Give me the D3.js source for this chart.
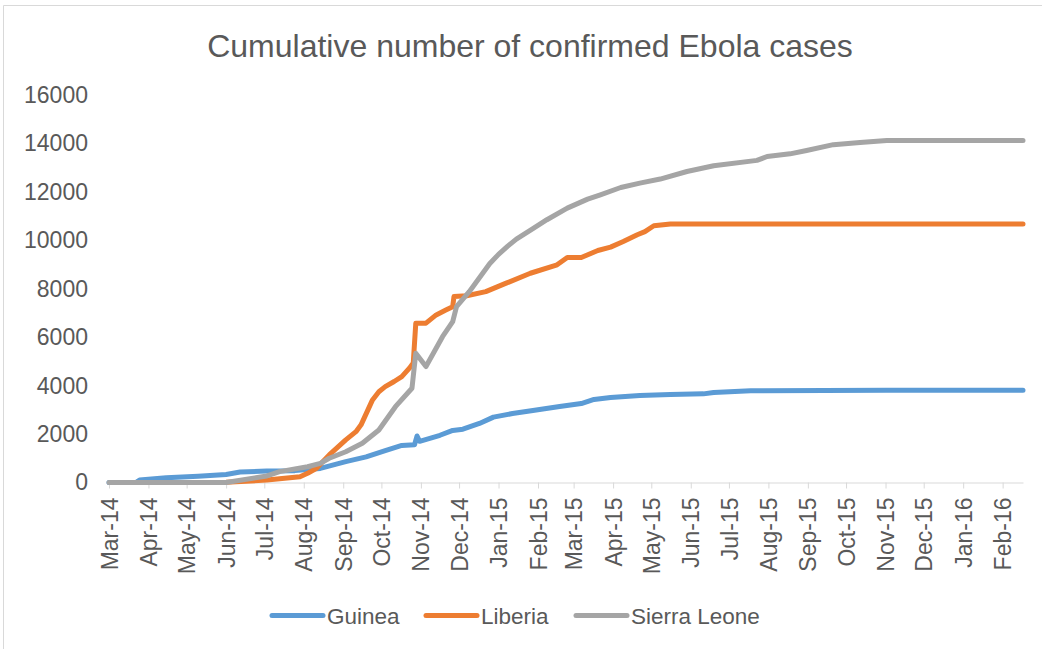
<!DOCTYPE html>
<html>
<head>
<meta charset="utf-8">
<script src="https://cdn.jsdelivr.net/npm/d3@7/dist/d3.min.js"></script>
<style>
  html, body { margin: 0; padding: 0; background: #fff; }
  svg { display: block; font-family: "Liberation Sans", Arial, sans-serif; }
</style>
</head>
<body>
<svg id="chart" width="1042" height="649"></svg>
<script>
// Cumulative confirmed Ebola cases by country, Mar 2014 – Feb 2016
const guineaDates = ["2014-03-01","2014-03-22","2014-03-25","2014-04-15","2014-05-10","2014-06-01","2014-06-12","2014-07-03","2014-07-25","2014-08-14","2014-09-03","2014-09-19","2014-10-04","2014-10-17","2014-10-27","2014-10-29","2014-10-31","2014-11-16","2014-11-26","2014-12-04","2014-12-17","2014-12-28","2015-01-12","2015-01-28","2015-02-18","2015-03-07","2015-03-17","2015-03-30","2015-04-22","2015-05-16","2015-06-11","2015-06-19","2015-07-18","2015-11-02","2015-11-15","2016-02-17"];
const guineaCases = [0,0,100,200,260,330,430,470,490,580,860,1060,1320,1530,1560,1920,1700,1950,2150,2200,2440,2700,2850,2970,3140,3260,3430,3510,3590,3630,3660,3720,3790,3810,3804,3804];

const liberiaDates = ["2014-03-25","2014-06-01","2014-07-03","2014-07-29","2014-08-04","2014-08-11","2014-08-21","2014-09-03","2014-09-11","2014-09-15","2014-09-24","2014-09-29","2014-10-04","2014-10-11","2014-10-17","2014-10-23","2014-10-26","2014-10-28","2014-11-05","2014-11-13","2014-11-21","2014-11-26","2014-11-27","2014-12-07","2014-12-22","2015-01-07","2015-01-26","2015-02-16","2015-02-24","2015-03-07","2015-03-20","2015-03-30","2015-04-09","2015-04-20","2015-04-26","2015-05-03","2015-05-16","2016-02-17"];
const liberiaCases = [0,10,100,240,380,590,1140,1760,2100,2380,3410,3750,3960,4170,4370,4720,4930,6580,6580,6920,7130,7260,7680,7710,7880,8230,8640,8990,9290,9290,9580,9720,9950,10230,10360,10600,10675,10675];

const sierraLeoneDates = ["2014-03-01","2014-06-01","2014-07-03","2014-07-13","2014-08-04","2014-08-14","2014-08-21","2014-09-03","2014-09-16","2014-09-29","2014-10-12","2014-10-25","2014-10-28","2014-11-05","2014-11-18","2014-11-26","2014-11-29","2014-12-09","2014-12-17","2014-12-25","2015-01-01","2015-01-08","2015-01-15","2015-01-28","2015-02-08","2015-02-24","2015-03-12","2015-03-22","2015-04-07","2015-04-22","2015-05-08","2015-05-29","2015-06-19","2015-07-23","2015-07-31","2015-08-18","2015-08-31","2015-09-21","2015-10-12","2015-11-02","2016-02-17"];
const sierraLeoneCases = [0,0,270,450,650,790,1000,1270,1620,2170,3130,3890,5340,4790,6020,6640,7260,7880,8450,9030,9420,9750,10050,10480,10850,11330,11700,11880,12180,12360,12530,12840,13080,13300,13460,13570,13710,13950,14040,14122,14122];

const seriesNames = ["Guinea", "Liberia", "Sierra Leone"];
const seriesColors = ["#5B9BD5", "#ED7D31", "#A5A5A5"];
const yTicks = [0, 2000, 4000, 6000, 8000, 10000, 12000, 14000, 16000];
const chartTitle = "Cumulative number of confirmed Ebola cases";

const parse = d3.timeParse("%Y-%m-%d");
const zip = (dates, vals) => dates.map((d, i) => ({ date: parse(d), value: vals[i] }));
const series = [
  zip(guineaDates, guineaCases),
  zip(liberiaDates, liberiaCases),
  zip(sierraLeoneDates, sierraLeoneCases)
];

const svg = d3.select("#chart");
const textColor = "#595959";
const axisColor = "#D9D9D9";

// chart frame
svg.append("path")
  .attr("d", "M3.5,649V5.5H1042")
  .attr("fill", "none")
  .attr("stroke", axisColor)
  .attr("stroke-width", 1);

const x = d3.scaleTime()
  .domain([parse("2014-03-01"), parse("2016-02-17")])
  .range([109, 1023]);
const y = d3.scaleLinear()
  .domain([0, 16000])
  .range([482.5, 95]);

// title
svg.append("text")
  .attr("x", 530)
  .attr("y", 57)
  .attr("text-anchor", "middle")
  .attr("font-size", 32)
  .attr("fill", textColor)
  .text(chartTitle);

// y axis labels only
const yAxis = svg.append("g")
  .attr("transform", "translate(109,0)")
  .call(d3.axisLeft(y).tickValues(yTicks).tickSize(0).tickPadding(21).tickFormat(d3.format("d")));
yAxis.select(".domain").remove();
yAxis.selectAll("text").attr("font-size", 23).attr("fill", textColor).attr("font-family", null);

// x axis with monthly ticks
const xAxis = svg.append("g")
  .attr("transform", "translate(0,482.5)")
  .call(d3.axisBottom(x)
    .ticks(d3.timeMonth.every(1))
    .tickFormat(d3.timeFormat("%b-%y"))
    .tickSize(6)
    .tickSizeOuter(0));
xAxis.select(".domain").attr("stroke", axisColor);
xAxis.selectAll(".tick line").attr("stroke", axisColor);
xAxis.selectAll("text")
  .attr("font-size", 23)
  .attr("fill", textColor)
  .attr("font-family", null)
  .attr("text-anchor", "end")
  .attr("transform", "rotate(-90)")
  .attr("x", -15)
  .attr("y", 0)
  .attr("dy", "0.35em");

// series lines
const line = d3.line()
  .x(d => x(d.date))
  .y(d => y(d.value));

svg.append("g")
  .selectAll("path")
  .data(series)
  .join("path")
  .attr("d", line)
  .attr("fill", "none")
  .attr("stroke", (d, i) => seriesColors[i])
  .attr("stroke-width", 5)
  .attr("stroke-linejoin", "round")
  .attr("stroke-linecap", "round");

// legend
const legendX = [272, 426, 576];
const legend = svg.append("g");
seriesNames.forEach((name, i) => {
  legend.append("line")
    .attr("x1", legendX[i]).attr("x2", legendX[i] + 51)
    .attr("y1", 615.5).attr("y2", 615.5)
    .attr("stroke", seriesColors[i])
    .attr("stroke-width", 5)
    .attr("stroke-linecap", "round");
  legend.append("text")
    .attr("x", legendX[i] + 55)
    .attr("y", 623.5)
    .attr("font-size", 22.5)
    .attr("fill", textColor)
    .text(name);
});
</script>
</body>
</html>
